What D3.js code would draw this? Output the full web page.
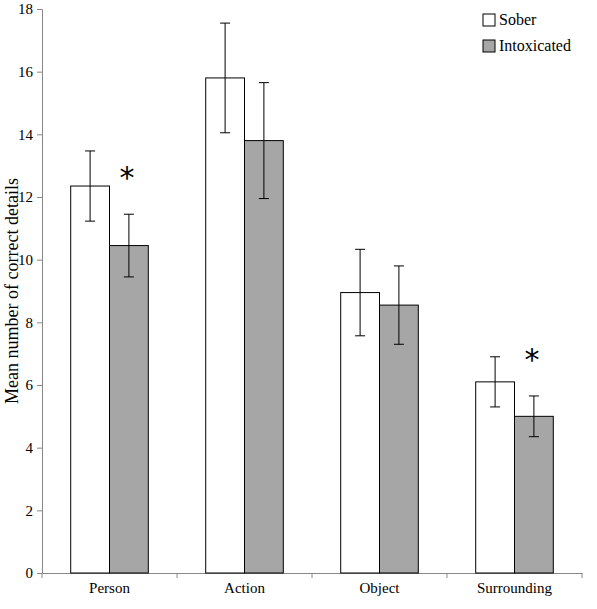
<!DOCTYPE html>
<html>
<head>
<script src="https://cdnjs.cloudflare.com/ajax/libs/d3/7.8.5/d3.min.js"></script>
<meta charset="utf-8">
<style>body{margin:0;background:#fff}</style>
</head>
<body>
<div id="chart"></div>
<script>
var categories = ["Person", "Action", "Object", "Surrounding"];
var series = ["Sober", "Intoxicated"];
var colors = ["#ffffff", "#a6a6a6"];
var sober = [12.35, 15.8, 8.95, 6.1];
var soberErr = [1.12, 1.75, 1.38, 0.8];
var intox = [10.45, 13.8, 8.55, 5.0];
var intoxErr = [1.0, 1.85, 1.25, 0.65];
var significant = [true, false, false, true];
var yTicks = [0, 2, 4, 6, 8, 10, 12, 14, 16, 18];

var W = 597, H = 609, m = {left: 42, right: 15, top: 9, bottom: 36};
var svg = d3.select("#chart").append("svg").attr("width", W).attr("height", H)
  .style("font-family", "Liberation Serif, Times New Roman, serif");

var x = d3.scaleBand().domain(categories).range([m.left, W - m.right]).paddingInner(0).paddingOuter(0);
var xs = d3.scaleBand().domain(series).range([0, x.bandwidth()]).paddingInner(0).paddingOuter(0.74);
var y = d3.scaleLinear().domain([0, 18]).range([H - m.bottom, m.top]);

svg.append("g").attr("transform", "translate(" + m.left + ",0)")
  .call(d3.axisLeft(y).tickValues(yTicks).tickSize(5).tickPadding(4));
svg.append("g").attr("transform", "translate(0," + (H - m.bottom) + ")")
  .call(d3.axisBottom(x).tickSize(0).tickPadding(9));
// category separator ticks
svg.selectAll(".sep").data(d3.range(categories.length + 1)).enter().append("line")
  .attr("x1", function(i){ return m.left + i * x.bandwidth(); })
  .attr("x2", function(i){ return m.left + i * x.bandwidth(); })
  .attr("y1", H - m.bottom).attr("y2", H - m.bottom + 5).attr("stroke", "#888");
svg.selectAll(".domain").attr("stroke", "#888");
svg.selectAll(".tick line").attr("stroke", "#888");
svg.selectAll(".tick text").attr("font-size", 15).attr("fill", "#000")
  .style("font-family", "Liberation Serif, serif");

var flat = [];
series.forEach(function(s, si){
  categories.forEach(function(c, ci){
    flat.push({cat: c, s: s, si: si,
      v: si === 0 ? sober[ci] : intox[ci],
      e: si === 0 ? soberErr[ci] : intoxErr[ci]});
  });
});
function cx(d){ return x(d.cat) + xs(d.s) + xs.bandwidth()/2; }

svg.selectAll(".bar").data(flat).enter().append("rect")
  .attr("x", function(d){ return x(d.cat) + xs(d.s); })
  .attr("width", xs.bandwidth())
  .attr("y", function(d){ return y(d.v); })
  .attr("height", function(d){ return y(0) - y(d.v); })
  .attr("fill", function(d){ return colors[d.si]; })
  .attr("stroke", "#000").attr("stroke-width", 1);

var eb = svg.selectAll(".err").data(flat).enter().append("g");
eb.append("line")
  .attr("x1", cx).attr("x2", cx)
  .attr("y1", function(d){ return y(d.v - d.e); })
  .attr("y2", function(d){ return y(d.v + d.e); })
  .attr("stroke", "#000");
[-1, 1].forEach(function(sg){
  eb.append("line")
    .attr("x1", function(d){ return cx(d) - 5; })
    .attr("x2", function(d){ return cx(d) + 5; })
    .attr("y1", function(d){ return y(d.v + sg * d.e); })
    .attr("y2", function(d){ return y(d.v + sg * d.e); })
    .attr("stroke", "#000");
});

svg.selectAll(".star").data(categories.filter(function(c, i){ return significant[i]; }))
  .enter().append("text")
  .attr("x", function(c){ return x(c) + xs("Intoxicated") + xs.bandwidth()/2 - 2; })
  .attr("y", function(c){ var i = categories.indexOf(c); return y(intox[i] + intoxErr[i]) - 26; })
  .attr("text-anchor", "middle").attr("font-size", 30)
  .style("font-family", "DejaVu Sans, sans-serif").text("*");

svg.append("text")
  .attr("transform", "translate(18," + ((m.top + H - m.bottom)/2) + ") rotate(-90)")
  .attr("text-anchor", "middle").attr("font-size", 18).text("Mean number of correct details");

var lg = svg.selectAll(".lg").data(series).enter().append("g")
  .attr("transform", function(d, i){ return "translate(483," + (14 + i * 26) + ")"; });
lg.append("rect").attr("width", 12).attr("height", 12)
  .attr("fill", function(d, i){ return colors[i]; }).attr("stroke", "#000");
lg.append("text").attr("x", 16).attr("y", 11).attr("font-size", 16).text(function(d){ return d; });
</script>
</body>
</html>
